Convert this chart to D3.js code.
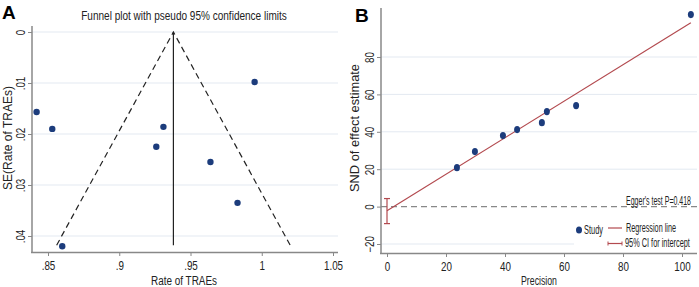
<!DOCTYPE html>
<html>
<head>
<meta charset="utf-8">
<script src="https://cdn.jsdelivr.net/npm/d3@7"></script>
<style>
  body { margin: 0; background: #fff; }
  svg { font-family: Arial, "Liberation Sans", sans-serif; }
</style>
</head>
<body>
<svg id="chart" width="699" height="287"></svg>
<script>
// Panel A: funnel plot data
const rateValues = [0.842, 0.853, 0.931, 0.926, 0.995, 0.964, 0.983, 0.860];
const seValues   = [0.0157, 0.019, 0.0186, 0.0225, 0.0098, 0.0255, 0.0335, 0.042];
const pooledRate = 0.938;
const seMax = 0.0418;
const rateTicks = [0.85, 0.9, 0.95, 1, 1.05];
const rateTickLabels = [".85", ".9", ".95", "1", "1.05"];
const seTicks = [0, 0.01, 0.02, 0.03, 0.04];
const seTickLabels = ["0", ".01", ".02", ".03", ".04"];

// Panel B: Egger's test data
const precisionValues = [103, 64.1, 54.2, 52.5, 44.1, 39.3, 29.8, 23.7];
const sndValues       = [102.7, 54, 50.8, 44.9, 41.2, 38, 29.4, 20.8];
const regIntercept = -2.2;
const regSlope = 0.976;
const ciIntercept = [-9.1, 4.3];
const precisionTicks = [0, 20, 40, 60, 80, 100];
const sndTicks = [-20, 0, 20, 40, 60, 80];
const eggerText = "Egger's test P=0.418";

const svg = d3.select("#chart");
const dotColor = "#1c3c7c";
const gridColor = "#e3e9f1";
const axisColor = "#888";
const redColor = "#b34a4f";
const textColor = "#222";

// narrow text label: the original uses a condensed font, so scale x to a target width
function label(parent, txt, x, y, size, width, anchor, rotate) {
  const t = parent.append("text")
    .attr("text-anchor", anchor || "start")
    .style("font-size", size + "px").attr("fill", textColor).text(txt);
  const f = width / t.node().getComputedTextLength();
  t.attr("transform", `translate(${x},${y})` + (rotate ? ` rotate(${rotate})` : "") + ` scale(${f},1)`);
  return t;
}

function styleAxis(ax, f) {
  ax.select(".domain").remove();
  ax.selectAll("line").attr("stroke", axisColor);
  ax.selectAll("text").attr("fill", textColor).style("font-size", "12px");
}

// ---------- Panel A ----------
const xA = d3.scaleLinear().domain([0.85, 1.05]).range([48, 333]);
const yA = d3.scaleLinear().domain([0, 0.04]).range([32, 236]);
const gA = svg.append("g");

// gridlines
gA.selectAll(".gridA").data(seTicks).enter().append("line")
  .attr("x1", 32).attr("x2", 338)
  .attr("y1", d => yA(d)).attr("y2", d => yA(d))
  .attr("stroke", gridColor).attr("stroke-width", 1);

// axes
const axisLeftA = d3.axisLeft(yA).tickValues(seTicks).tickSize(4)
  .tickFormat((d, i) => seTickLabels[i]);
const yAxisA = gA.append("g").attr("transform", "translate(32,0)").call(axisLeftA);
const axisBottomA = d3.axisBottom(xA).tickValues(rateTicks).tickSize(4)
  .tickFormat((d, i) => rateTickLabels[i]);
const xAxisA = gA.append("g").attr("transform", "translate(0,252)").call(axisBottomA);
[yAxisA, xAxisA].forEach(styleAxis);
yAxisA.selectAll("text")
  .attr("transform", "translate(-7,0) rotate(-90) scale(0.82,1)")
  .attr("x", 0).attr("y", 0)
  .attr("text-anchor", "middle").attr("dy", "0");
xAxisA.selectAll("text").attr("y", 0).attr("dy", "0")
  .attr("transform", "translate(0,18) scale(0.82,1)");

gA.append("line").attr("x1", 32).attr("x2", 32).attr("y1", 26).attr("y2", 253)
  .attr("stroke", axisColor).attr("stroke-width", 1.5);
gA.append("line").attr("x1", 31).attr("x2", 338).attr("y1", 252.5).attr("y2", 252.5)
  .attr("stroke", axisColor).attr("stroke-width", 1.5);

// funnel lines
const funnelPts = [
  [pooledRate - 1.96 * seMax, seMax],
  [pooledRate, 0],
  [pooledRate + 1.96 * seMax, seMax]
];
gA.append("path")
  .attr("d", d3.line().x(d => xA(d[0])).y(d => yA(d[1]))(funnelPts))
  .attr("fill", "none").attr("stroke", textColor).attr("stroke-width", 1.2)
  .attr("stroke-dasharray", "6,4");
gA.append("line")
  .attr("x1", xA(pooledRate)).attr("x2", xA(pooledRate))
  .attr("y1", yA(0)).attr("y2", yA(seMax))
  .attr("stroke", textColor).attr("stroke-width", 1.2);

// points
gA.selectAll(".dotA").data(rateValues).enter().append("circle")
  .attr("cx", d => xA(d)).attr("cy", (d, i) => yA(seValues[i]))
  .attr("r", 3.2).attr("fill", dotColor);

// titles
label(gA, "Funnel plot with pseudo 95% confidence limits", 184, 20, 13.5, 206, "middle");
label(gA, "Rate of TRAEs", 184, 285, 13.5, 66, "middle");
label(gA, "SE(Rate of TRAEs)", 12, 138, 13.5, 104, "middle", -90);
gA.append("text").attr("x", 2).attr("y", 19)
  .style("font-size", "19px").style("font-weight", "bold").text("A");

// ---------- Panel B ----------
const xB = d3.scaleLinear().domain([0, 100]).range([387, 682]);
const yB = d3.scaleLinear().domain([-20, 80]).range([244, 57]);
const gB = svg.append("g");

gB.selectAll(".gridB").data(sndTicks.filter(d => d !== 0)).enter().append("line")
  .attr("x1", 381).attr("x2", 697)
  .attr("y1", d => yB(d)).attr("y2", d => yB(d))
  .attr("stroke", gridColor).attr("stroke-width", 1);

const axisLeftB = d3.axisLeft(yB).tickValues(sndTicks).tickSize(4);
const yAxisB = gB.append("g").attr("transform", "translate(381,0)").call(axisLeftB);
const axisBottomB = d3.axisBottom(xB).tickValues(precisionTicks).tickSize(4);
const xAxisB = gB.append("g").attr("transform", "translate(0,253)").call(axisBottomB);
[yAxisB, xAxisB].forEach(styleAxis);
yAxisB.selectAll("text")
  .attr("transform", "translate(-7,0) rotate(-90) scale(0.82,1)")
  .attr("x", 0).attr("y", 0)
  .attr("text-anchor", "middle").attr("dy", "0");
xAxisB.selectAll("text").attr("y", 0).attr("dy", "0")
  .attr("transform", "translate(0,18) scale(0.82,1)");

gB.append("line").attr("x1", 381).attr("x2", 381).attr("y1", 8).attr("y2", 254)
  .attr("stroke", axisColor).attr("stroke-width", 1.5);
gB.append("line").attr("x1", 380).attr("x2", 697).attr("y1", 253.5).attr("y2", 253.5)
  .attr("stroke", axisColor).attr("stroke-width", 1.5);

// zero reference line
gB.append("line").attr("x1", 381).attr("x2", 697).attr("y1", yB(0)).attr("y2", yB(0))
  .attr("stroke", "#888").attr("stroke-width", 1.3).attr("stroke-dasharray", "6,4");

// regression line
const regX = [0, d3.max(precisionValues)];
gB.append("line")
  .attr("x1", xB(regX[0])).attr("y1", yB(regIntercept + regSlope * regX[0]))
  .attr("x2", xB(regX[1])).attr("y2", yB(regIntercept + regSlope * regX[1]))
  .attr("stroke", redColor).attr("stroke-width", 1.2);

// CI for intercept
gB.append("line").attr("x1", xB(0)).attr("x2", xB(0))
  .attr("y1", yB(ciIntercept[0])).attr("y2", yB(ciIntercept[1]))
  .attr("stroke", redColor).attr("stroke-width", 1.2);
ciIntercept.forEach(v => {
  gB.append("line").attr("x1", xB(0) - 3).attr("x2", xB(0) + 3)
    .attr("y1", yB(v)).attr("y2", yB(v))
    .attr("stroke", redColor).attr("stroke-width", 1.2);
});

// points
gB.selectAll(".dotB").data(precisionValues).enter().append("ellipse")
  .attr("cx", d => xB(d)).attr("cy", (d, i) => yB(sndValues[i]))
  .attr("rx", 3).attr("ry", 3.6).attr("fill", dotColor);

label(gB, eggerText, 691, 205, 12.5, 65, "end");

// legend
const lg = gB.append("g");
lg.append("rect").attr("x", 574).attr("y", 218).attr("width", 123).attr("height", 32)
  .attr("fill", "#fff");
lg.append("ellipse").attr("cx", 579).attr("cy", 230).attr("rx", 3).attr("ry", 3.6)
  .attr("fill", dotColor);
label(lg, "Study", 584, 234, 12, 19);
lg.append("line").attr("x1", 608).attr("x2", 622).attr("y1", 228).attr("y2", 228)
  .attr("stroke", redColor).attr("stroke-width", 1.2);
label(lg, "Regression line", 626, 232, 12, 50);
lg.append("line").attr("x1", 608).attr("x2", 622).attr("y1", 243.5).attr("y2", 243.5)
  .attr("stroke", redColor).attr("stroke-width", 1.2);
[608, 622].forEach(x => {
  lg.append("line").attr("x1", x).attr("x2", x).attr("y1", 241.5).attr("y2", 245.5)
    .attr("stroke", redColor).attr("stroke-width", 1);
});
label(lg, "95% CI for intercept", 625, 247, 12, 65);

label(gB, "Precision", 539, 285, 13.5, 36, "middle");
label(gB, "SND of effect estimate", 359, 128, 13.5, 128, "middle", -90);
gB.append("text").attr("x", 355).attr("y", 22)
  .style("font-size", "19px").style("font-weight", "bold").text("B");
</script>
</body>
</html>
